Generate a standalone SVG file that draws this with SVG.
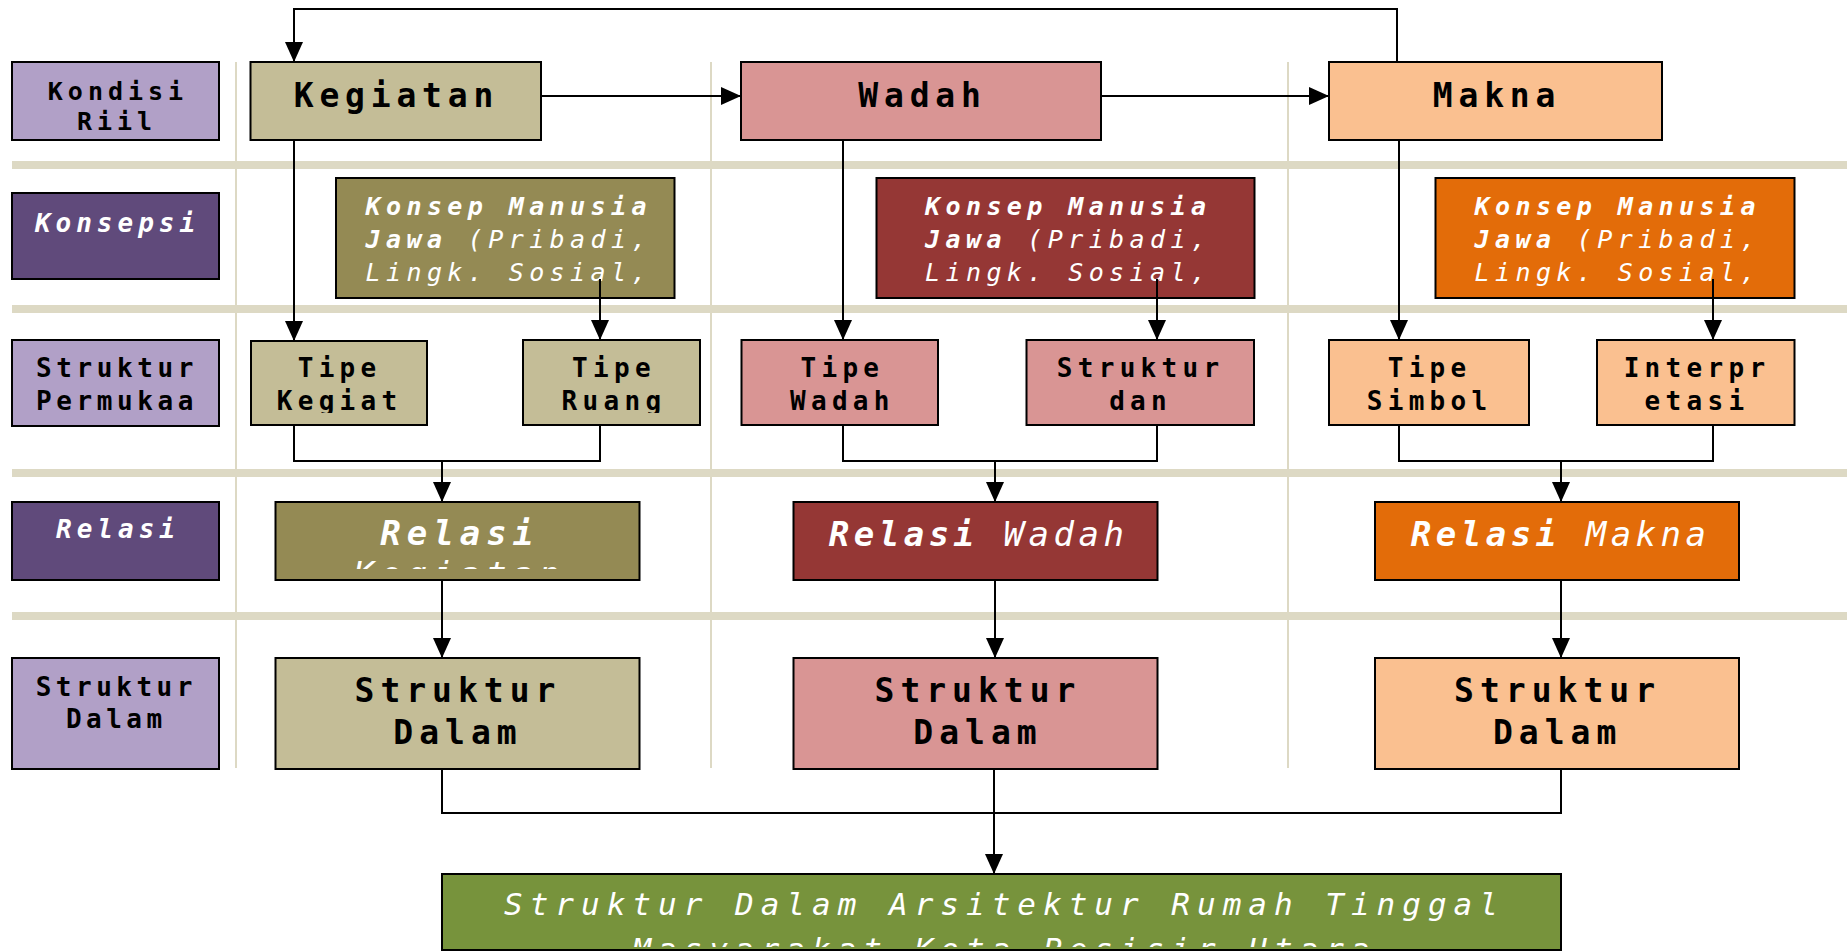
<svg xmlns="http://www.w3.org/2000/svg" width="1847" height="952" viewBox="0 0 1847 952">
<style>
.box{stroke:#000;stroke-width:2}
.t{font-family:"DejaVu Sans Mono","Liberation Mono",monospace;text-anchor:middle;fill:#000}
.b{font-weight:bold}
.n{font-weight:normal}
.w{fill:#fff;font-style:italic}
.conn{fill:none;stroke:#000;stroke-width:2}
.band{fill:#DDD9C4}
.div{stroke:#DDD9C4;stroke-width:2}
.lav{fill:#B1A0C7}.pur{fill:#604A7B}
.k1{fill:#C4BD97}.k2{fill:#948A54}
.w1{fill:#D99594}.w2{fill:#953735}
.m1{fill:#FAC090}.m2{fill:#E36C09}
.gr{fill:#77933C}
</style>
<defs>
<marker id="ah" markerUnits="userSpaceOnUse" markerWidth="20" markerHeight="18" refX="20" refY="9" orient="auto">
<path d="M0,0 L20,9 L0,18 z" fill="#000"/>
</marker>
<clipPath id="cKond"><rect x="12" y="62" width="207" height="68"/></clipPath>
<clipPath id="cRelK"><rect x="276" y="502" width="364" height="67"/></clipPath>
<clipPath id="cGreen"><rect x="442" y="874" width="1119" height="73"/></clipPath>
<clipPath id="cTK"><rect x="251" y="341" width="176" height="72"/></clipPath>
<clipPath id="cTR"><rect x="523" y="340" width="177" height="73"/></clipPath>
</defs>
<rect width="1847" height="952" fill="#fff"/>
<g id="grid">
<rect class="band" x="12" y="161" width="1835" height="8"/>
<rect class="band" x="12" y="305" width="1835" height="8"/>
<rect class="band" x="12" y="469" width="1835" height="8"/>
<rect class="band" x="12" y="612" width="1835" height="8"/>
<line class="div" x1="236" y1="62" x2="236" y2="768"/>
<line class="div" x1="711" y1="62" x2="711" y2="768"/>
<line class="div" x1="1288" y1="62" x2="1288" y2="768"/>
</g>
<g id="lbl-kondisi"><rect class="box lav" x="12" y="62" width="207" height="78"/>
<g clip-path="url(#cKond)"><text class="t b" font-size="25" letter-spacing="5" x="118" y="100">Kondisi</text>
<text class="t b" font-size="25" letter-spacing="5" x="117" y="130">Riil</text></g></g>
<g id="lbl-konsepsi"><rect class="box pur" x="12" y="193" width="207" height="86"/>
<text class="t w b" font-size="26" letter-spacing="5" x="117.5" y="232">Konsepsi</text></g>
<g id="lbl-permukaan"><rect class="box lav" x="12" y="340" width="207" height="86"/>
<text class="t b" font-size="26" letter-spacing="4.6" x="117" y="377">Struktur</text>
<text class="t b" font-size="26" letter-spacing="4.6" x="117" y="409.5">Permukaa</text></g>
<g id="lbl-relasi"><rect class="box pur" x="12" y="502" width="207" height="78"/>
<text class="t w b" font-size="26" letter-spacing="5" x="118" y="538">Relasi</text></g>
<g id="lbl-dalam"><rect class="box lav" x="12" y="658" width="207" height="111"/>
<text class="t b" font-size="26" letter-spacing="4.5" x="116.3" y="696">Struktur</text>
<text class="t b" font-size="26" letter-spacing="4.5" x="116.3" y="728">Dalam</text></g>

<g id="kegiatan"><rect class="box k1" x="250.5" y="62" width="290.5" height="78"/>
<text class="t b" font-size="33" letter-spacing="5.8" x="396.4" y="107">Kegiatan</text></g>
<g id="wadah"><rect class="box w1" x="741" y="62" width="360" height="78"/>
<text class="t b" font-size="33" letter-spacing="5.8" x="922.5" y="107">Wadah</text></g>
<g id="makna"><rect class="box m1" x="1329" y="62" width="333" height="78"/>
<text class="t b" font-size="33" letter-spacing="5.8" x="1497" y="107">Makna</text></g>

<g id="konsep-k"><rect class="box k2" x="336" y="178" width="338.5" height="120"/>
<text class="t w" font-size="25" letter-spacing="5.4" x="508.7" y="215"><tspan class="b">Konsep Manusia</tspan></text>
<text class="t w" font-size="25" letter-spacing="5.4" x="508.7" y="248"><tspan class="b">Jawa</tspan> (Pribadi,</text>
<text class="t w" font-size="25" letter-spacing="5.4" x="508.7" y="281">Lingk. Sosial,</text></g>
<g id="konsep-w"><rect class="box w2" x="876.5" y="178" width="378" height="120"/>
<text class="t w" font-size="25" letter-spacing="5.4" x="1068.2" y="215"><tspan class="b">Konsep Manusia</tspan></text>
<text class="t w" font-size="25" letter-spacing="5.4" x="1068.2" y="248"><tspan class="b">Jawa</tspan> (Pribadi,</text>
<text class="t w" font-size="25" letter-spacing="5.4" x="1068.2" y="281">Lingk. Sosial,</text></g>
<g id="konsep-m"><rect class="box m2" x="1435.5" y="178" width="359" height="120"/>
<text class="t w" font-size="25" letter-spacing="5.4" x="1617.7" y="215"><tspan class="b">Konsep Manusia</tspan></text>
<text class="t w" font-size="25" letter-spacing="5.4" x="1617.7" y="248"><tspan class="b">Jawa</tspan> (Pribadi,</text>
<text class="t w" font-size="25" letter-spacing="5.4" x="1617.7" y="281">Lingk. Sosial,</text></g>

<g id="tipe-kegiatan"><rect class="box k1" x="251" y="341" width="176" height="84"/>
<g clip-path="url(#cTK)"><text class="t b" font-size="26" letter-spacing="5.3" x="339.6" y="377">Tipe</text>
<text class="t b" font-size="26" letter-spacing="5.3" x="339.6" y="410">Kegiat</text></g></g>
<g id="tipe-ruang"><rect class="box k1" x="523" y="340" width="177" height="85"/>
<g clip-path="url(#cTR)"><text class="t b" font-size="26" letter-spacing="5.3" x="614" y="377">Tipe</text>
<text class="t b" font-size="26" letter-spacing="5.3" x="614" y="410">Ruang</text></g></g>
<g id="tipe-wadah"><rect class="box w1" x="741.5" y="340" width="196.5" height="85"/>
<text class="t b" font-size="26" letter-spacing="5.3" x="842.4" y="377">Tipe</text>
<text class="t b" font-size="26" letter-spacing="5.3" x="842.4" y="410">Wadah</text></g>
<g id="struktur-dan"><rect class="box w1" x="1026.5" y="340" width="227.5" height="85"/>
<text class="t b" font-size="26" letter-spacing="5.3" x="1140.6" y="377">Struktur</text>
<text class="t b" font-size="26" letter-spacing="5.3" x="1140.6" y="410">dan</text></g>
<g id="tipe-simbol"><rect class="box m1" x="1329" y="340" width="200" height="85"/>
<text class="t b" font-size="26" letter-spacing="5.3" x="1429.6" y="377">Tipe</text>
<text class="t b" font-size="26" letter-spacing="5.3" x="1429.6" y="410">Simbol</text></g>
<g id="interpretasi"><rect class="box m1" x="1597" y="340" width="197.5" height="85"/>
<text class="t b" font-size="26" letter-spacing="5.3" x="1697" y="377">Interpr</text>
<text class="t b" font-size="26" letter-spacing="5.3" x="1697" y="410">etasi</text></g>

<g id="relasi-kegiatan"><rect class="box k2" x="275.5" y="502" width="364" height="78"/>
<g clip-path="url(#cRelK)"><text class="t w b" font-size="34" letter-spacing="6" x="459.7" y="545">Relasi</text>
<text class="t w" font-size="34" letter-spacing="6" x="459.7" y="586">Kegiatan</text></g></g>
<g id="relasi-wadah"><rect class="box w2" x="793.5" y="502" width="364" height="78"/>
<text class="t w" font-size="34" letter-spacing="4.5" x="978.6" y="546"><tspan class="b">Relasi</tspan> Wadah</text></g>
<g id="relasi-makna"><rect class="box m2" x="1375" y="502" width="364" height="78"/>
<text class="t w" font-size="34" letter-spacing="4.5" x="1560.7" y="546"><tspan class="b">Relasi</tspan> Makna</text></g>

<g id="dalam-k"><rect class="box k1" x="275.5" y="658" width="364" height="111"/>
<text class="t b" font-size="33" letter-spacing="6" x="458" y="702">Struktur</text>
<text class="t b" font-size="33" letter-spacing="6" x="458" y="744">Dalam</text></g>
<g id="dalam-w"><rect class="box w1" x="793.5" y="658" width="364" height="111"/>
<text class="t b" font-size="33" letter-spacing="6" x="978" y="702">Struktur</text>
<text class="t b" font-size="33" letter-spacing="6" x="978" y="744">Dalam</text></g>
<g id="dalam-m"><rect class="box m1" x="1375" y="658" width="364" height="111"/>
<text class="t b" font-size="33" letter-spacing="6" x="1557.6" y="702">Struktur</text>
<text class="t b" font-size="33" letter-spacing="6" x="1557.6" y="744">Dalam</text></g>

<g id="hasil"><rect class="box gr" x="442" y="874" width="1119" height="76"/>
<g clip-path="url(#cGreen)"><text class="t w" font-size="31" letter-spacing="7" x="1004.5" y="915">Struktur Dalam Arsitektur Rumah Tinggal</text>
<text class="t w" font-size="31" letter-spacing="7" x="1004.5" y="960">Masyarakat Kota Pesisir Utara</text></g></g>

<g id="connectors">
<path class="conn" d="M1397,62 V9 H294 V62" marker-end="url(#ah)"/>
<path class="conn" d="M541,96 H741" marker-end="url(#ah)"/>
<path class="conn" d="M1101,96 H1329" marker-end="url(#ah)"/>
<path class="conn" d="M294,140 V341" marker-end="url(#ah)"/>
<path class="conn" d="M600,279 V340" marker-end="url(#ah)"/>
<path class="conn" d="M843,140 V340" marker-end="url(#ah)"/>
<path class="conn" d="M1157,279 V340" marker-end="url(#ah)"/>
<path class="conn" d="M1399,140 V340" marker-end="url(#ah)"/>
<path class="conn" d="M1713,279 V340" marker-end="url(#ah)"/>
<path class="conn" d="M294,425 V461 H600 V425"/>
<path class="conn" d="M442,461 V502" marker-end="url(#ah)"/>
<path class="conn" d="M843,425 V461 H1157 V425"/>
<path class="conn" d="M995,461 V502" marker-end="url(#ah)"/>
<path class="conn" d="M1399,425 V461 H1713 V425"/>
<path class="conn" d="M1561,461 V502" marker-end="url(#ah)"/>
<path class="conn" d="M442,580 V658" marker-end="url(#ah)"/>
<path class="conn" d="M995,580 V658" marker-end="url(#ah)"/>
<path class="conn" d="M1561,580 V658" marker-end="url(#ah)"/>
<path class="conn" d="M442,769 V813 H1561 V769"/>
<path class="conn" d="M994,769 V874" marker-end="url(#ah)"/>
</g>
</svg>
